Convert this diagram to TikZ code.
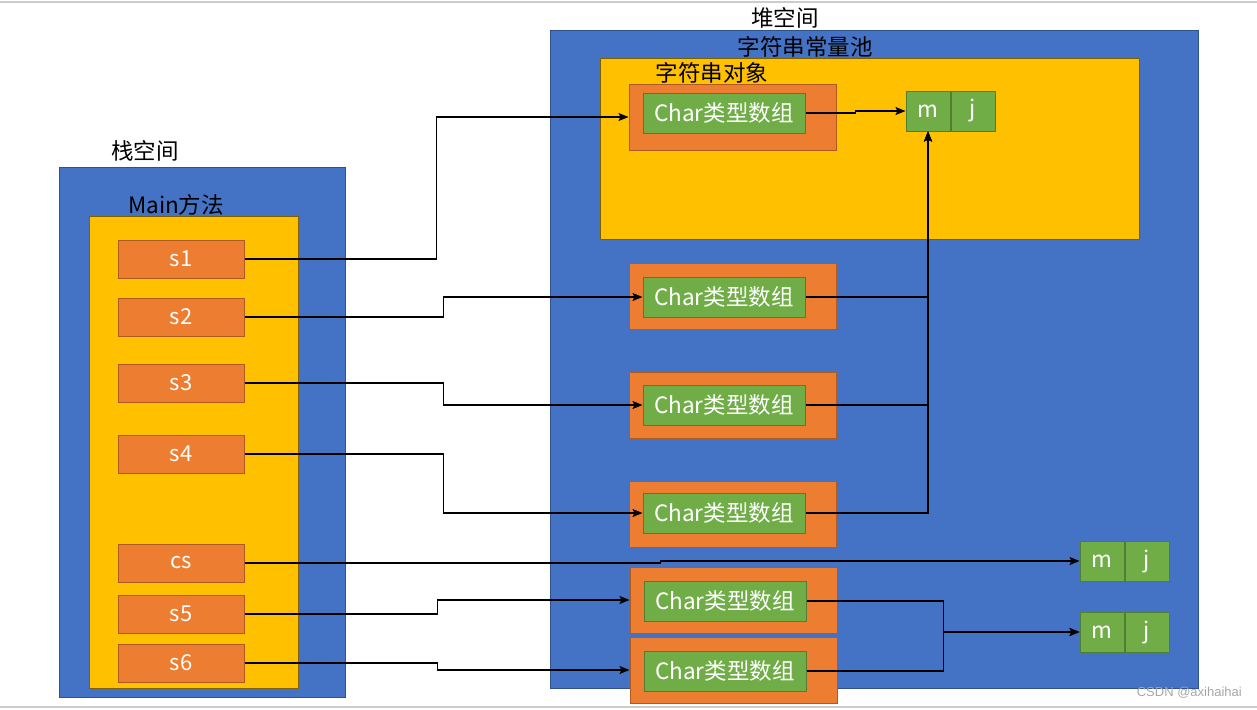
\documentclass[tikz,border=0pt]{standalone}
\usepackage{fontspec}
\setmainfont{Noto Sans CJK SC}
\newfontfamily\markfont{Liberation Sans}
\usetikzlibrary{positioning,arrows.meta}
\definecolor{areablue}{HTML}{4472C4}
\definecolor{areablueline}{HTML}{2F528F}
\definecolor{areayellow}{HTML}{FFC000}
\definecolor{areayellowline}{HTML}{7F6000}
\definecolor{objorange}{HTML}{ED7D31}
\definecolor{objorangeline}{HTML}{AE5A21}
\definecolor{arrgreen}{HTML}{70AD47}
\definecolor{arrgreenline}{HTML}{507E32}

\begin{document}
\begin{tikzpicture}[x=1pt, y=-1pt, >={Stealth[length=10pt,width=8pt,inset=2pt]},
  box/.style={rectangle, inner sep=0pt, line width=1pt},
  bluearea/.style={box, draw=areablueline, fill=areablue},
  yellowarea/.style={box, draw=areayellowline, fill=areayellow},
  refbox/.style={box, draw=objorangeline, fill=objorange, minimum width=126pt, minimum height=38pt, text=white, font=\fontsize{22}{26}\selectfont},
  objbox/.style={box, draw=objorangeline, fill=objorange, minimum width=207pt, minimum height=66pt},
  charbox/.style={box, draw=arrgreenline, fill=arrgreen, minimum width=162pt, minimum height=40pt, text=white, font=\fontsize{22.5}{26}\selectfont},
  cell/.style={box, draw=arrgreenline, fill=arrgreen, minimum width=44pt, minimum height=40pt, text=white, font=\fontsize{22.5}{26}\selectfont},
  lbl/.style={inner sep=0pt, font=\fontsize{22.5}{26}\selectfont},
  conn/.style={->, line width=1.2pt}]
\useasboundingbox (0,0) rectangle (1257,709);
\draw[black!20, line width=1.5pt] (0,2) -- (1257,2) (0,707) -- (1257,707);

% stack side
\node[bluearea, minimum width=286pt, minimum height=530pt] (stack) at (202,432) {};
\node[yellowarea, minimum width=209pt, minimum height=472pt] (mainm) at (193.5,452) {};
\node[lbl] (stacklbl) at (145,151) {栈空间};
\node[lbl] (mainlbl) at (176,205) {Main方法};

\node[refbox] (s1) at (181,259) {s1};
\node[refbox] (s2) at (181,317) {s2};
\node[refbox] (s3) at (181,383) {s3};
\node[refbox] (s4) at (181,454) {s4};
\node[refbox] (cs) at (181,563) {cs};
\node[refbox] (s5) at (181,614) {s5};
\node[refbox] (s6) at (181,663) {s6};

% heap side
\node[bluearea, minimum width=648pt, minimum height=657pt] (heap) at (874,359.5) {};
\node[yellowarea, minimum width=539pt, minimum height=180pt] (pool) at (869.5,149) {};
\node[lbl] (heaplbl) at (785,18) {堆空间};
\node[lbl] (poollbl) at (805,47) {字符串常量池};
\node[lbl] (strlbl) at (712,73) {字符串对象};

\node[objbox] (o1) at (732.5,117) {};
\node[objbox] (o2) at (732.5,296) {};
\node[objbox] (o3) at (732.5,405) {};
\node[objbox] (o4) at (732.5,514) {};
\node[objbox] (o5) at (733.5,600) {};
\node[objbox] (o6) at (733.5,670) {};

\node[charbox] (g1) at (724,113) {Char类型数组};
\node[charbox] (g2) at (724,297) {Char类型数组};
\node[charbox] (g3) at (724,405) {Char类型数组};
\node[charbox] (g4) at (724,513) {Char类型数组};
\node[charbox] (g5) at (725,601) {Char类型数组};
\node[charbox] (g6) at (725,671) {Char类型数组};

\node[cell] (m1) at (928,111) {m};
\node[cell, right=0pt of m1] (j1) {j};
\node[cell] (m2) at (1102,561) {m};
\node[cell, right=0pt of m2] (j2) {j};
\node[cell] (m3) at (1102,632) {m};
\node[cell, right=0pt of m3] (j3) {j};

% references
\draw[conn] (s1.east) -- ++(192,0) |- (o1.west);
\draw[conn] (s2.east) -- ++(199,0) |- (g2.west);
\draw[conn] (s3.east) -- ++(199,0) |- (g3.west);
\draw[conn] (s4.east) -- ++(199,0) |- (g4.west);
\draw[conn] (cs.east) -- ++(416,0) |- (m2.west);
\draw[conn] (s5.east) -- ++(193,0) |- (o5.west);
\draw[conn] (s6.east) -- ++(193,0) |- (o6.west);

\draw[conn] (g1.east) -- ++(50,0) |- (m1.west);
\draw[conn] (g2.east) -| (m1.south);
\draw[conn] (g3.east) -| (m1.south);
\draw[conn] (g4.east) -| (m1.south);
\draw[conn] (g5.east) -- ++(137,0) |- (m3.west);
\draw[conn] (g6.east) -- ++(137,0) |- (m3.west);

\node[anchor=east, inner sep=0pt, text=black!35, font=\markfont\fontsize{13}{15}\selectfont] (mark) at (1242,693) {CSDN @axihaihai};
\end{tikzpicture}
\end{document}
